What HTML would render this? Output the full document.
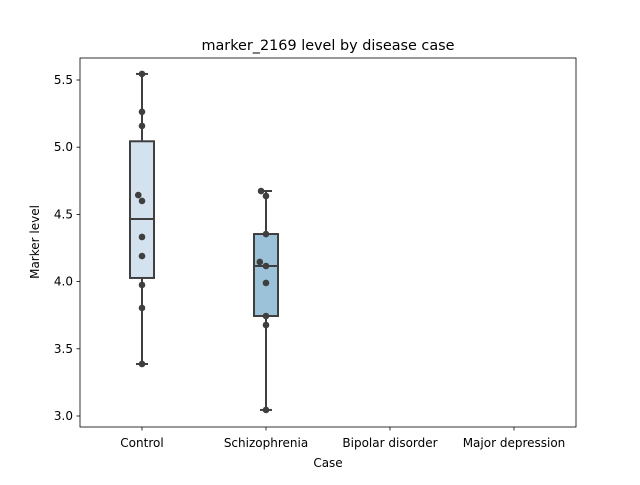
<!DOCTYPE html>
<html><head><meta charset="utf-8"><style>
body{margin:0;background:#fff;font-family:"Liberation Sans","DejaVu Sans",sans-serif;}
svg text{font-family:"DejaVu Sans","Liberation Sans",sans-serif;fill:#000;}
</style></head><body>
<svg id="chart" width="640" height="480" xmlns="http://www.w3.org/2000/svg">
<rect width="640" height="480" fill="#fff"/>
<text x="328" y="50" font-size="14.4" text-anchor="middle">marker_2169 level by disease case</text>
<g id="plot"></g>
<rect x="80" y="58" width="496" height="369" fill="none" stroke="#000" stroke-width="0.8"/>
<text x="328" y="467" font-size="12" text-anchor="middle">Case</text>
<text transform="translate(39,242) rotate(-90)" font-size="12" text-anchor="middle">Marker level</text>
</svg>
<script>
const categories=["Control","Schizophrenia","Bipolar disorder","Major depression"];
const boxColors=["#d4e2ef","#9cc2d9","#5b9ec9","#2a6fad"];
const whiskerLow=[3.387,3.045,null,null];
const q1=[4.027,3.744,null,null];
const median=[4.466,4.116,null,null];
const q3=[5.044,4.354,null,null];
const whiskerHigh=[5.545,4.674,null,null];
const controlPoints=[5.545,5.263,5.158,4.644,4.6,4.332,4.19,3.975,3.804,3.387];
const controlJitter=[0,0,0,-0.03,0,0,0,0,0,0];
const schizoPoints=[4.674,4.637,4.354,4.146,4.116,3.99,3.744,3.677,3.045];
const schizoJitter=[-0.04,0,0,-0.05,0,0,0,0,0];
const yTicks=[3.0,3.5,4.0,4.5,5.0,5.5];
const yLabels=["3.0","3.5","4.0","4.5","5.0","5.5"];

const NS="http://www.w3.org/2000/svg";
const L=80,R=576,T=58,B=427;
const x=i=>L+(R-L)/categories.length*(i+0.5);
const y=v=>416-(v-3)*134.4;
const g=document.getElementById('plot');
function mk(t,a){const e=document.createElementNS(NS,t);for(const k in a)e.setAttribute(k,a[k]);g.appendChild(e);return e;}
yTicks.forEach((v,i)=>{
 const t=mk('line',{x1:L-3.5,x2:L,y1:y(v),y2:y(v),stroke:'#000','stroke-width':0.8});
 
 
 const tx=mk('text',{x:L-7,y:y(v)+4,'font-size':12,'text-anchor':'end'});tx.textContent=yLabels[i];
 
 
});
categories.forEach((c,i)=>{
 const t=mk('line',{x1:x(i),x2:x(i),y1:B,y2:B+3.5,stroke:'#000','stroke-width':0.8});
 
 
 const tx=mk('text',{x:x(i),y:B+20,'font-size':12,'text-anchor':'middle'});tx.textContent=c;
 
 
 if(q1[i]==null)return;
 const st={stroke:'#3f3f3f','stroke-width':2};
 const hw=12,cw=6;
 const w1=mk('line',Object.assign({x1:x(i),x2:x(i),y1:y(whiskerLow[i]),y2:y(q1[i])},st));
 
 
 const w2=mk('line',Object.assign({x1:x(i),x2:x(i),y1:y(q3[i]),y2:y(whiskerHigh[i])},st));
 
 
 [whiskerLow[i],whiskerHigh[i]].forEach(v=>{const c2=mk('line',Object.assign({x1:x(i)-cw,x2:x(i)+cw,y1:y(v),y2:y(v)},st));
  
  });
 const b=mk('rect',Object.assign({x:x(i)-hw,y:y(q3[i]),width:hw*2,height:y(q1[i])-y(q3[i]),fill:boxColors[i]},st));
 
 
 const m=mk('line',Object.assign({x1:x(i)-hw,x2:x(i)+hw,y1:y(median[i]),y2:y(median[i])},st));
 
 
});
[[controlPoints,controlJitter,0],[schizoPoints,schizoJitter,1]].forEach(([pts,jit,i])=>{
 pts.forEach((v,k)=>{
  const p=mk('circle',{cx:x(i)+jit[k]*124,cy:y(v),r:3.3,fill:'#3f3f3f'});
  
  
 });
});
</script>
</body></html>
